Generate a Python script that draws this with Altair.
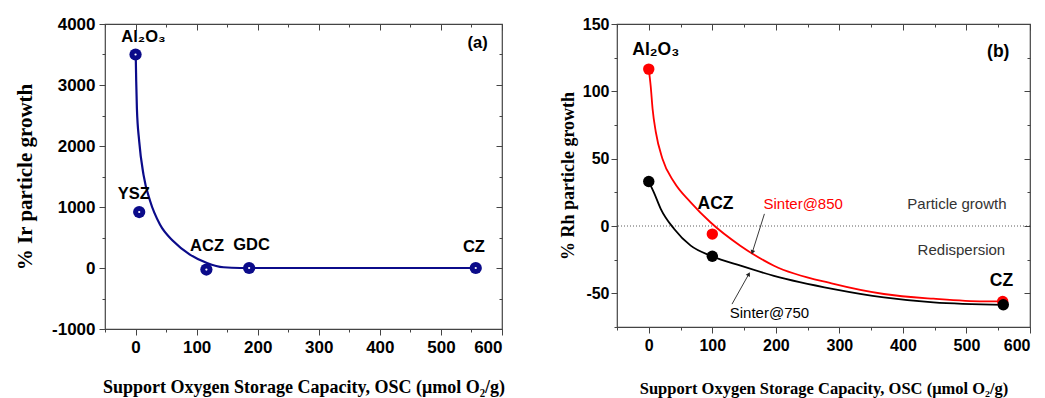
import math
import altair as alt
import pandas as pd

# ---------------- panel (a): Ir ----------------
a_support = ["Al₂O₃", "YSZ", "ACZ", "GDC", "CZ"]
a_osc = [0, 6, 116, 186, 557]
a_growth = [3500, 918, -25, 0, 0]
a_label_osc = [13, -3, 117, 190, 554]
a_label_growth = [3782, 1220, 356, 384, 340]
# fitted curve
a_fit_osc = [0, 0.5, 1.1, 2.2, 6, 13, 24, 40, 62, 89, 117, 144, 171, 250, 400, 557]
a_fit_growth = [3500, 3390, 3061, 2623, 2077, 1531, 1094, 712, 438, 220, 83, 12, 0, 0, 0, 0]

# ---------------- panel (b): Rh ----------------
b_support = ["Al₂O₃", "ACZ", "CZ"]
b_osc_850 = [0, 100, 557]
b_growth_850 = [116.5, -6, -56]
b_osc_750 = [0, 100, 558]
b_growth_750 = [33, -22.5, -58.5]
b_fit850_osc = [0, 3, 6, 11, 21.5, 40, 66, 97, 144, 197, 291, 370, 448, 527, 557]
b_fit850_growth = [116.5, 104, 87, 70, 50, 32.5, 17.6, 2.8, -14.6, -29.5, -43, -50.5, -54, -56, -56]
b_fit750_osc = [0, 8, 19, 40, 66, 100, 144.5, 197, 291, 370, 448, 558]
b_fit750_growth = [33, 25, 12.6, -2.2, -14.6, -22.5, -29.5, -37, -46.8, -53, -56.7, -58.5]

b_text = ["Al₂O₃", "(b)", "ACZ", "CZ"]
b_text_osc = [11, 550, 105, 555]
b_text_growth = [131, 129, 16, -40.6]
b_note = ["Particle growth", "Redispersion"]
b_note_osc = [485, 492]
b_note_growth = [16.3, -18]
b_series = ["Sinter@850", "Sinter@750"]
b_series_osc = [243, 190]
b_series_growth = [16, -64.6]
b_zero = [0]
arrow_from_osc = [182, 131]
arrow_from_growth = [9, -58]
arrow_to_osc = [163, 157.5]
arrow_to_growth = [-19.5, -35.7]

NAVY = "#0b0b8a"
RED = "#ff0000"
SANS = "Liberation Sans"
SERIF = "Liberation Serif"

WA, HA = 397, 305
WB, HB = 413, 303
XDOM = [-50, 600]
XTITLE = "Support Oxygen Storage Capacity, OSC (μmol O₂/g)"


def tick_size(step, big, small, sign=1):
    return {"condition": {"test": f"datum.value % {step} === 0", "value": sign * big},
            "value": sign * small}


def lab(step):
    return f"datum.value % {step} === 0 ? '' + datum.value : ''"


def x_axis(size, lsize, pad):
    return alt.Axis(values=list(range(-50, 601, 50)), labelExpr=lab(100),
                    tickSize=tick_size(100, 6, 3), title=XTITLE, titleFontSize=size,
                    labelFontSize=lsize, titlePadding=pad)


def mirror(df, xcol, ycol, xdom, ydom, xvals, yvals, xstep, ystep):
    return alt.Chart(df).mark_point(opacity=0).encode(
        x=alt.X(f"{xcol}:Q", scale=alt.Scale(domain=xdom, nice=False, zero=False),
                axis=alt.Axis(orient="top", values=xvals, labels=False, title=None,
                              domain=False, tickSize=tick_size(xstep, 6, 3, -1))),
        y=alt.Y(f"{ycol}:Q", scale=alt.Scale(domain=ydom, nice=False, zero=False),
                axis=alt.Axis(orient="right", values=yvals, labels=False, title=None,
                              domain=False, tickSize=tick_size(ystep, 6, 3, -1))),
    )


# ---- panel (a) ----
pa = pd.DataFrame({"support": a_support, "osc": a_osc, "growth": a_growth})
fa = pd.DataFrame({"osc": a_fit_osc, "growth": a_fit_growth})
la = pd.DataFrame({"support": a_support + ["(a)"], "osc": a_label_osc + [560],
                   "growth": a_label_growth + [3690]})
YDOM_A = [-1000, 4000]
xa = alt.X("osc:Q", scale=alt.Scale(domain=XDOM, nice=False, zero=False),
           axis=x_axis(18, 17, 23))
ya = alt.Y("growth:Q", scale=alt.Scale(domain=YDOM_A, nice=False, zero=False),
           axis=alt.Axis(values=list(range(-1000, 4001, 500)), labelExpr=lab(1000),
                         tickSize=tick_size(1000, 6, 3), labelFontSize=17,
                         title="% Ir particle growth", titleFontSize=21, titlePadding=16))

line_a = alt.Chart(fa).mark_line(color=NAVY, strokeWidth=2.2, interpolate="monotone").encode(x=xa, y=ya)
pts_a = alt.Chart(pa).mark_point(filled=True, color=NAVY, size=150, opacity=1).encode(x=xa, y=ya)
dot_a = alt.Chart(pa).mark_point(filled=True, color="white", size=5, opacity=1).encode(x=xa, y=ya)
txt_a = alt.Chart(la).mark_text(font=SANS, fontWeight="bold", fontSize=16.5, color="black").encode(
    x=xa, y=ya, text="support:N")
main_a = alt.layer(line_a, pts_a, dot_a, txt_a)
panel_a = alt.layer(
    main_a,
    mirror(pa, "osc", "growth", XDOM, YDOM_A, list(range(-50, 601, 50)),
           list(range(-1000, 4001, 500)), 100, 1000),
).resolve_scale(x="independent", y="independent").properties(width=WA, height=HA)

# ---- panel (b) ----
YDOM_B = [-75, 150]
p850 = pd.DataFrame({"support": b_support, "osc": b_osc_850, "growth": b_growth_850})
p750 = pd.DataFrame({"support": b_support, "osc": b_osc_750, "growth": b_growth_750})
f850 = pd.DataFrame({"osc": b_fit850_osc, "growth": b_fit850_growth})
f750 = pd.DataFrame({"osc": b_fit750_osc, "growth": b_fit750_growth})
tb = pd.DataFrame({"t": b_text, "osc": b_text_osc, "growth": b_text_growth})
nb = pd.DataFrame({"t": b_note, "osc": b_note_osc, "growth": b_note_growth})
zb = pd.DataFrame({"growth": b_zero})
sb = pd.DataFrame({"t": b_series, "osc": b_series_osc, "growth": b_series_growth,
                   "c": [RED, "black"]})

kx = WB / (XDOM[1] - XDOM[0])
ky = HB / (YDOM_B[1] - YDOM_B[0])
angles = []
for x1, y1, x2, y2 in zip(arrow_from_osc, arrow_from_growth, arrow_to_osc, arrow_to_growth):
    dx = (x2 - x1) * kx
    dy = -(y2 - y1) * ky
    angles.append(math.degrees(math.atan2(dx, -dy)) % 360)
ab = pd.DataFrame({"osc": arrow_from_osc, "growth": arrow_from_growth,
                   "osc2": arrow_to_osc, "growth2": arrow_to_growth, "ang": angles})

xb_axis = x_axis(16.5, 16, 27)
yb_axis = alt.Axis(values=list(range(-75, 151, 25)), labelExpr=lab(50),
                   tickSize=tick_size(50, 6, 3), labelFontSize=16, labelPadding=2,
                   title="% Rh particle growth", titleFontSize=18, titlePadding=5)
xb_scale = alt.Scale(domain=XDOM, nice=False, zero=False)
yb_scale = alt.Scale(domain=YDOM_B, nice=False, zero=False)
xb = alt.X("osc:Q", scale=xb_scale, axis=xb_axis)
yb = alt.Y("growth:Q", scale=yb_scale, axis=yb_axis)

zero_b = alt.Chart(zb).mark_rule(color="#333", strokeWidth=0.8, strokeDash=[1, 2]).encode(y=yb)
l850 = alt.Chart(f850).mark_line(color=RED, strokeWidth=1.8, interpolate="monotone").encode(x=xb, y=yb)
l750 = alt.Chart(f750).mark_line(color="black", strokeWidth=1.8, interpolate="monotone").encode(x=xb, y=yb)
pt850 = alt.Chart(p850).mark_point(filled=True, color=RED, size=130, opacity=1).encode(x=xb, y=yb)
pt750 = alt.Chart(p750).mark_point(filled=True, color="black", size=130, opacity=1).encode(x=xb, y=yb)
txt_b = alt.Chart(tb).mark_text(font=SANS, fontWeight="bold", fontSize=17.5, color="black").encode(
    x=xb, y=yb, text="t:N")
note_b = alt.Chart(nb).mark_text(font=SANS, fontSize=15, color="#333").encode(x=xb, y=yb, text="t:N")
ser_b = alt.Chart(sb).mark_text(font=SANS, fontSize=15).encode(
    x=xb, y=yb, text="t:N", color=alt.Color("c:N", scale=None))
arr_line = alt.Chart(ab).mark_rule(color="#222", strokeWidth=0.9).encode(
    x=xb, y=yb, x2="osc2:Q", y2="growth2:Q")
arr_head = alt.Chart(ab).mark_point(shape="triangle-up", filled=True, color="#222", size=22,
                                    opacity=1).encode(
    x=alt.X("osc2:Q", scale=xb_scale, axis=xb_axis),
    y=alt.Y("growth2:Q", scale=yb_scale, axis=yb_axis),
    angle=alt.Angle("ang:Q", scale=None))
main_b = alt.layer(zero_b, l850, l750, pt850, pt750, txt_b, note_b, ser_b, arr_line, arr_head)
panel_b = alt.layer(
    main_b,
    mirror(p850, "osc", "growth", XDOM, YDOM_B, list(range(-50, 601, 50)),
           list(range(-75, 151, 25)), 100, 50),
).resolve_scale(x="independent", y="independent").properties(width=WB, height=HB)

chart = alt.hconcat(panel_a, panel_b, spacing=52).properties(
    padding={"left": 5, "top": 6, "right": 0, "bottom": 0}
).configure_axis(
    labelFont=SANS, labelFontWeight="bold", labelColor="black", labelOverlap=False,
    titleFont=SERIF, titleFontWeight="bold", titleColor="black",
    domain=False, tickColor="#444", tickWidth=1, grid=False, labelPadding=4,
).configure_view(stroke="#444", strokeWidth=1.2)

chart.save("out.html", embed_options={"renderer": "svg", "actions": False})
